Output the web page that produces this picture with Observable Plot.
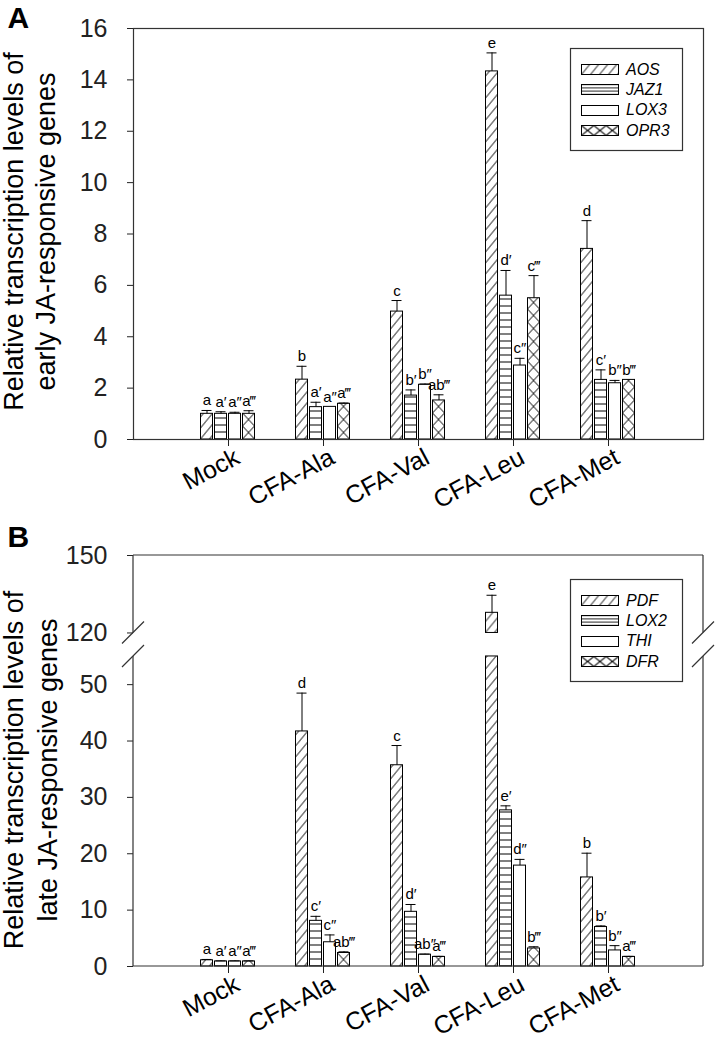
<!DOCTYPE html>
<html><head><meta charset="utf-8">
<script src="https://cdn.jsdelivr.net/npm/d3@7"></script>
<script src="https://cdn.jsdelivr.net/npm/@observablehq/plot@0.6"></script>
<style>
body{margin:0;background:#fff;width:717px;height:1039px;overflow:hidden;font-family:"Liberation Sans",Arial,sans-serif}
#chart svg{display:block}
</style></head><body><div id="chart"></div>
<script>
// ---------- data ----------
const categories = ["Mock", "CFA-Ala", "CFA-Val", "CFA-Leu", "CFA-Met"];

// Panel A: early JA-responsive genes
const genesA = ["AOS", "JAZ1", "LOX3", "OPR3"];
const meanA_AOS  = [1.00, 2.33, 4.98, 14.33, 7.42];
const errA_AOS   = [0.13, 0.52, 0.43, 0.72, 1.10];
const letA_AOS   = ["a", "b", "c", "e", "d"];
const meanA_JAZ1 = [1.00, 1.26, 1.71, 5.60, 2.32];
const errA_JAZ1  = [0.08, 0.19, 0.22, 0.98, 0.39];
const letA_JAZ1  = ["a′", "a′", "b′", "d′", "c′"];
const meanA_LOX3 = [1.00, 1.27, 2.13, 2.88, 2.19];
const errA_LOX3  = [0.06, 0.00, 0.03, 0.28, 0.11];
const letA_LOX3  = ["a″", "a″", "b″", "c″", "b″"];
const meanA_OPR3 = [1.00, 1.39, 1.52, 5.50, 2.32];
const errA_OPR3  = [0.12, 0.03, 0.22, 0.88, 0.00];
const letA_OPR3  = ["a‴", "a‴", "ab‴", "c‴", "b‴"];
const ticksA = [0, 2, 4, 6, 8, 10, 12, 14, 16];

// Panel B: late JA-responsive genes
const genesB = ["PDF", "LOX2", "THI", "DFR"];
const meanB_PDF  = [1.1, 41.7, 35.7, 127.8, 15.8];
const errB_PDF   = [0.15, 6.8, 3.5, 6.8, 4.3];
const letB_PDF   = ["a", "d", "c", "e", "b"];
const meanB_LOX2 = [0.9, 8.1, 9.7, 27.7, 7.0];
const errB_LOX2  = [0.1, 0.8, 1.3, 0.8, 0.2];
const letB_LOX2  = ["a′", "c′", "d′", "e′", "b′"];
const meanB_THI  = [0.9, 4.3, 2.1, 17.9, 2.85];
const errB_THI   = [0.1, 1.3, 0.1, 1.1, 0.85];
const letB_THI   = ["a″", "c″", "ab″", "d″", "b″"];
const meanB_DFR  = [0.9, 2.4, 1.7, 3.2, 1.7];
const errB_DFR   = [0.1, 0.2, 0.1, 0.3, 0.1];
const letB_DFR   = ["a‴", "ab‴", "a‴", "b‴", "a‴"];
const ticksB = [0, 10, 20, 30, 40, 50, 120, 150];
const breakB = [55, 120];   // lower segment ends at 55, upper segment starts at 120
const yMaxB = 150;

// ---------- broken-axis transform for panel B ----------
const GAP_UNITS = 4.17;     // size of the gap, in lower-segment units
const K_UP = 0.458;         // compression of the upper segment
const tB = v => v <= breakB[0] ? v
  : v >= breakB[1] ? breakB[0] + GAP_UNITS + (v - breakB[1]) * K_UP
  : breakB[0] + GAP_UNITS * (v - breakB[0]) / (breakB[1] - breakB[0]);
const tBinv = u => u <= breakB[0] ? u : breakB[1] + (u - breakB[0] - GAP_UNITS) / K_UP;
const ident = v => v;

// ---------- helpers ----------
const FONT = '"Liberation Sans", Arial, Helvetica, sans-serif';
const BAND_W = 57, BAR_W = 12;
const barLeft = [1, 15, 29, 43];
const kinds = ["diag", "horiz", "none", "cross"];

function rowsFor(genes, means, errs, lets) {
  return genes.flatMap((g, gi) => categories.map((c, ci) => ({
    cat: c, gene: g, gi, v: means[gi][ci], e: errs[gi][ci], l: lets[gi][ci]
  })));
}

function barMarks(rows, brk, tf) {
  const out = [];
  for (let gi = 0; gi < 4; gi++) {
    const d = rows.filter(r => r.gi === gi);
    const common = {x: "cat", insetLeft: barLeft[gi], insetRight: BAND_W - barLeft[gi] - BAR_W,
      fill: "white", stroke: "black", strokeWidth: 1, ariaDescription: "bar-" + kinds[gi]};
    out.push(Plot.barY(d, {...common, y1: () => 0, y2: r => tf(brk ? Math.min(r.v, brk[0]) : r.v)}));
    if (brk) out.push(Plot.barY(d.filter(r => r.v > brk[1]), {...common, y1: () => tf(brk[1]), y2: r => tf(r.v)}));
    const c = barLeft[gi] + BAR_W / 2;
    const withErr = d.filter(r => r.e > 0);
    out.push(Plot.ruleX(withErr, {x: "cat", y1: r => tf(r.v), y2: r => tf(r.v + r.e), dx: c - BAND_W / 2, stroke: "black", strokeWidth: 1}));
    out.push(Plot.tickY(withErr, {x: "cat", y: r => tf(r.v + r.e), insetLeft: c - 5, insetRight: BAND_W - c - 5, stroke: "black", strokeWidth: 1}));
    out.push(Plot.text(d, {x: "cat", y: r => tf(r.v + r.e), text: "l", dx: c - BAND_W / 2, dy: -5,
      lineAnchor: "bottom", fontSize: 15, fill: "black"}));
  }
  return out;
}

function legendMark(genes, topOff) {
  return (index, scales, values, dims) => {
    const R = dims.width - dims.marginRight, T = dims.marginTop;
    const bx = R - 133, by = T + topOff;
    const g = d3.create("svg:g").attr("text-anchor", "start");
    g.append("rect").attr("x", bx + 0.5).attr("y", by + 0.5).attr("width", 112).attr("height", 102)
      .attr("fill", "white").attr("stroke", "#333").attr("stroke-width", 1.2);
    genes.forEach((name, i) => {
      const cy = by + 21 + i * 20.3;
      g.append("rect").attr("data-kind", kinds[i]).attr("x", bx + 11.5).attr("y", Math.round(cy - 5) + 0.5)
        .attr("width", 37).attr("height", 10).attr("fill", "white").attr("stroke", "black");
      g.append("text").attr("x", bx + 56).attr("y", cy).attr("dy", "0.36em").attr("text-anchor", "start")
        .attr("font-style", "italic").attr("font-size", 16).attr("fill", "black").text(name);
    });
    return g.node();
  };
}

function brokenFrame(loVal, hiVal) {
  return (index, scales, values, dims) => {
    const y = scales.y;
    const L = dims.marginLeft, R = dims.width - dims.marginRight;
    const T = dims.marginTop, B = dims.height - dims.marginBottom;
    const yHi = y(hiVal), yLo = y(loVal);
    const g = d3.create("svg:g").attr("fill", "none");
    const frame = `M${L},${T}H${R}M${L},${B}H${R}M${L},${T}V${yHi}M${L},${yLo}V${B}M${R},${T}V${yHi}M${R},${yLo}V${B}`;
    g.append("path").attr("d", frame).attr("stroke", "#333").attr("stroke-width", 1.2);
    let s = "";
    for (const xc of [L, R]) for (const yc of [yHi, yLo]) s += `M${xc - 11},${yc + 11}L${xc + 11},${yc - 11}`;
    g.append("path").attr("d", s).attr("stroke", "#333").attr("stroke-width", 1.2);
    return g.node();
  };
}

function el(name, attrs) {
  const e = document.createElementNS("http://www.w3.org/2000/svg", name);
  for (const k in attrs) e.setAttribute(k, attrs[k]);
  return e;
}

function applyPatterns(svg, prefix) {
  const defs = el("defs", {});
  svg.insertBefore(defs, svg.firstChild);
  const items = [];
  svg.querySelectorAll('g[aria-description^="bar-"]').forEach(g => {
    const kind = g.getAttribute("aria-description").slice(4);
    g.querySelectorAll("rect").forEach(r => items.push([r, kind, false]));
  });
  svg.querySelectorAll("rect[data-kind]").forEach(r => items.push([r, r.getAttribute("data-kind"), true]));
  let n = 0;
  for (const [r, kind, sw] of items) {
    if (kind === "none") { r.setAttribute("fill", "white"); continue; }
    const x = +r.getAttribute("x"), y = +r.getAttribute("y");
    const w = +r.getAttribute("width"), h = +r.getAttribute("height");
    let tw, th, d;
    if (kind === "diag") { tw = 9; th = 11; d = `M-9,11L0,0M0,11L9,0M9,11L18,0`; }
    else if (kind === "horiz") { tw = 10; th = sw ? h / 3 : 7; d = `M-1,0H11M-1,${th}H11`; }
    else { tw = sw ? w / 3 : w; th = sw ? h : 13; d = `M0,0L${tw},${th}M0,${th}L${tw},0`; }
    const id = `${prefix}-p${n++}`;
    const p = el("pattern", {id, patternUnits: "userSpaceOnUse", x, y: y + h, width: tw, height: th});
    p.appendChild(el("rect", {x: 0, y: 0, width: tw, height: th, fill: "white"}));
    p.appendChild(el("path", {d, stroke: "black", "stroke-width": 1, fill: "none"}));
    defs.appendChild(p);
    r.setAttribute("fill", `url(#${id})`);
  }
}

function commonMarks(line1, line2, dx1, dx2, titleDy, panelLetter, letterDy) {
  const titleOpts = {text: d => d, frameAnchor: "left", rotate: -90, dy: titleDy,
    textAnchor: "middle", lineAnchor: "middle", fontSize: 27, fill: "black"};
  return [
    Plot.text(categories, {x: d => d, text: d => d, frameAnchor: "bottom", rotate: -28,
      textAnchor: "end", lineAnchor: "middle", dx: 9, dy: 16, fontSize: 25, fill: "black"}),
    Plot.text([line1], {...titleOpts, dx: dx1}),
    Plot.text([line2], {...titleOpts, dx: dx2}),
    Plot.text([panelLetter], {text: d => d, frameAnchor: "top-left", dx: -126, dy: letterDy,
      textAnchor: "start", lineAnchor: "bottom", fontSize: 30, fontWeight: "bold", fill: "black"})
  ];
}

// ---------- Panel A ----------
const rowsA = rowsFor(genesA,
  [meanA_AOS, meanA_JAZ1, meanA_LOX3, meanA_OPR3],
  [errA_AOS, errA_JAZ1, errA_LOX3, errA_OPR3],
  [letA_AOS, letA_JAZ1, letA_LOX3, letA_OPR3]);

const plotA = Plot.plot({
  width: 717, height: 480,
  marginLeft: 133, marginRight: 14, marginTop: 28, marginBottom: 41,
  style: {fontFamily: FONT, fontSize: "25px", color: "#222", background: "white", overflow: "visible"},
  x: {domain: categories, paddingInner: 0.4, paddingOuter: 0.7, round: false, label: null,
      tickSize: 7, tickFormat: () => ""},
  y: {domain: [0, 16], ticks: ticksA, tickSize: 6, tickPadding: 20, label: null},
  marks: [
    ...barMarks(rowsA, null, ident),
    Plot.frame({stroke: "#333", strokeWidth: 1.2}),
    legendMark(genesA, 20),
    ...commonMarks("Relative transcription levels of", "early JA-responsive genes", -119.5, -87, -2.5, "A", -1)
  ]
});
applyPatterns(plotA, "pa");

// ---------- Panel B ----------
const rowsB = rowsFor(genesB,
  [meanB_PDF, meanB_LOX2, meanB_THI, meanB_DFR],
  [errB_PDF, errB_LOX2, errB_THI, errB_DFR],
  [letB_PDF, letB_LOX2, letB_THI, letB_DFR]);

const plotB = Plot.plot({
  width: 717, height: 559,
  marginLeft: 133, marginRight: 14, marginTop: 75, marginBottom: 73,
  style: {fontFamily: FONT, fontSize: "25px", color: "#222", background: "white", overflow: "visible"},
  x: {domain: categories, paddingInner: 0.4, paddingOuter: 0.7, round: false, label: null,
      tickSize: 7, tickFormat: () => ""},
  y: {domain: [0, tB(yMaxB)], ticks: ticksB.map(tB), tickFormat: u => String(Math.round(tBinv(u))),
      tickSize: 6, tickPadding: 20, label: null},
  marks: [
    ...barMarks(rowsB, breakB, tB),
    brokenFrame(tB(breakB[0]), tB(breakB[1])),
    legendMark(genesB, 24),
    ...commonMarks("Relative transcription levels of", "late JA-responsive genes", -119, -85, 9, "B", -9)
  ]
});
applyPatterns(plotB, "pb");

document.getElementById("chart").append(plotA, plotB);
</script>
</body></html>
